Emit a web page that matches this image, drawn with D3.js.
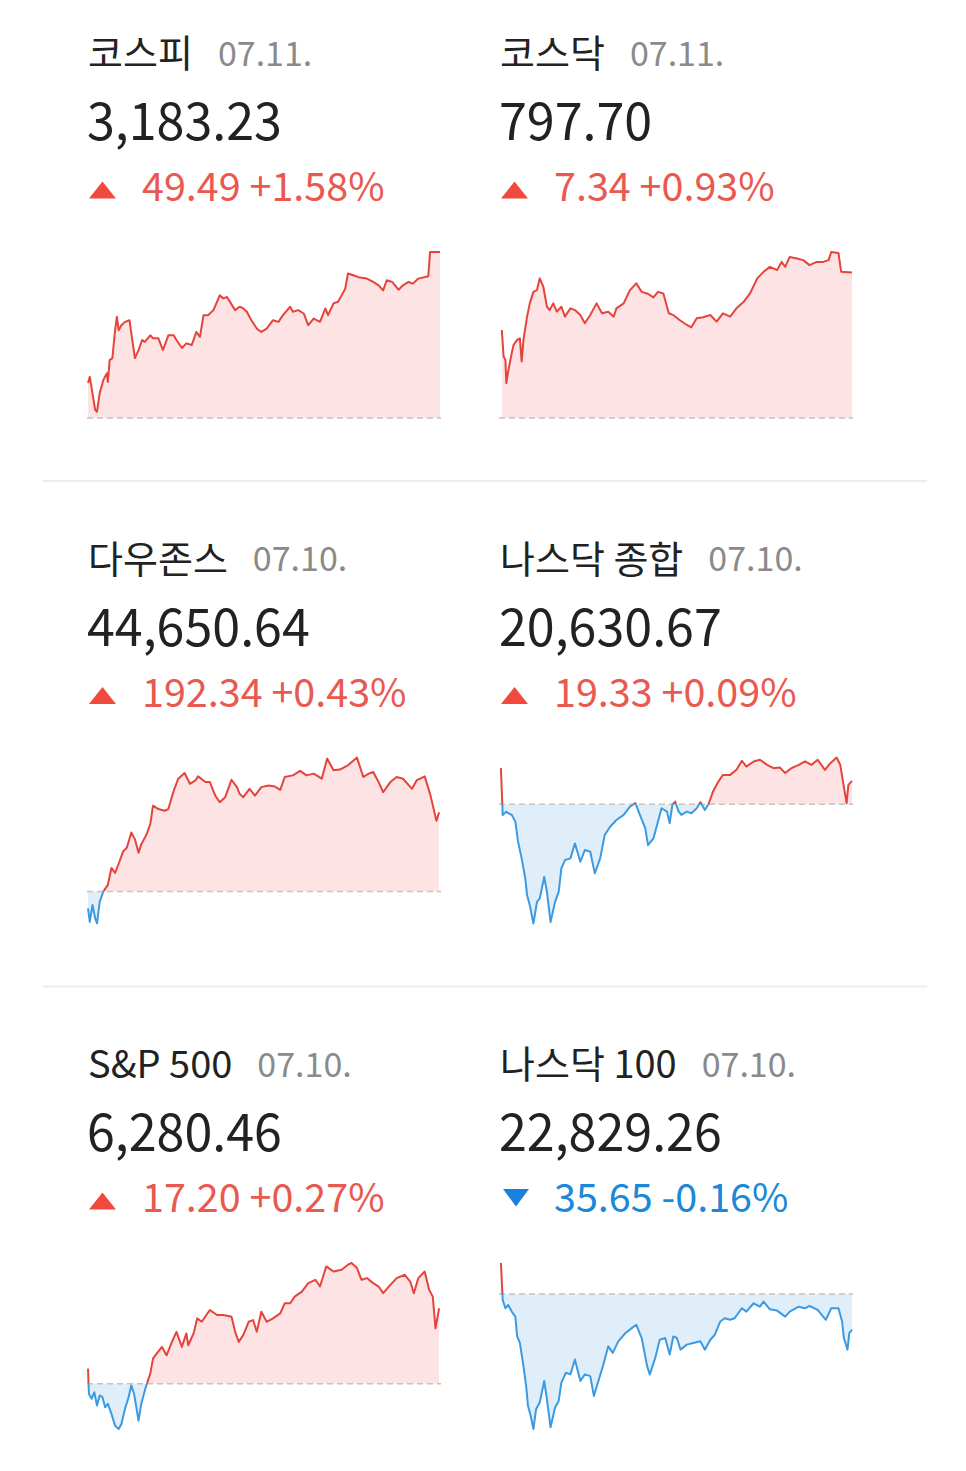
<!DOCTYPE html>
<html><head><meta charset="utf-8">
<script src="https://cdn.jsdelivr.net/npm/d3@7/dist/d3.min.js"></script>
<style>
html,body{margin:0;padding:0;background:#fff;}
svg{display:block;font-family:"Noto Sans CJK KR","Noto Sans",sans-serif;}
</style></head>
<body><svg id="c" width="966" height="1471"></svg>
<script>
const names = ["코스피","코스닥","다우존스","나스닥 종합","S&P 500","나스닥 100"];
const dates = ["07.11.","07.11.","07.10.","07.10.","07.10.","07.10."];
const closes = [3183.23, 797.70, 44650.64, 20630.67, 6280.46, 22829.26];
const changes = [49.49, 7.34, 192.34, 19.33, 17.20, -35.65];
const changePcts = [1.58, 0.93, 0.43, 0.09, 0.27, -0.16];
const sessionMinutes = [0, 390];

// [minutes since open, index level]
const kospiSeries = [[0,3144.2],[2,3146.0],[8,3136.1],[10,3135.6],[13,3141.2],[17,3145.1],[21,3147.1],[22,3144.5],[24,3151.0],[27,3151.6],[30,3159.9],[32,3163.9],[34,3159.9],[37,3161.4],[41,3162.4],[46,3162.9],[48,3159.0],[52,3151.6],[56,3154.0],[60,3157.0],[63,3156.4],[69,3158.4],[72,3157.5],[78,3157.5],[83,3154.0],[89,3158.4],[95,3158.4],[98,3157.0],[104,3154.6],[109,3156.0],[115,3155.5],[120,3159.4],[124,3157.9],[128,3164.4],[133,3164.4],[139,3165.9],[146,3170.3],[150,3169.4],[154,3169.8],[163,3165.9],[168,3166.9],[172,3166.4],[176,3165.4],[181,3162.9],[187,3160.4],[192,3159.4],[198,3160.4],[205,3162.9],[211,3162.4],[216,3164.4],[224,3166.9],[227,3165.4],[233,3165.9],[239,3164.9],[244,3161.4],[250,3163.4],[257,3162.4],[263,3166.4],[266,3164.4],[272,3167.9],[277,3168.4],[281,3170.3],[285,3172.3],[288,3176.8],[294,3176.3],[301,3175.6],[309,3175.3],[316,3174.3],[322,3173.3],[327,3171.8],[331,3174.8],[337,3174.3],[344,3172.0],[349,3173.3],[355,3174.3],[360,3173.8],[366,3175.3],[377,3176.0],[379,3183.23],[390,3183.23]];

const kosdaqSeries = [[2,794.80],[4,793.46],[6,793.29],[7,792.12],[9,792.70],[13,793.63],[15,794.04],[19,794.30],[22,794.38],[24,793.21],[26,794.30],[30,795.47],[33,796.14],[37,796.72],[41,796.81],[44,797.40],[48,796.98],[52,795.97],[55,795.80],[59,796.14],[63,795.72],[68,795.97],[72,795.47],[78,795.89],[83,795.80],[89,795.55],[94,795.14],[100,795.55],[107,796.14],[113,795.64],[120,795.72],[126,795.47],[129,795.89],[137,796.14],[144,796.81],[151,797.15],[157,796.72],[163,796.64],[170,796.44],[175,796.72],[181,796.64],[187,795.64],[192,795.55],[199,795.30],[207,795.05],[212,794.93],[218,795.39],[225,795.44],[233,795.55],[240,795.22],[247,795.64],[255,795.47],[262,795.89],[270,796.22],[277,796.64],[285,797.40],[292,797.73],[299,797.98],[307,797.82],[312,798.23],[316,797.98],[321,798.48],[329,798.40],[336,798.32],[343,798.07],[351,798.23],[358,798.23],[364,798.32],[367,798.73],[375,798.68],[378,797.73],[390,797.70]];

const dowSeries = [[0,44417.6],[2,44384.7],[5,44425.7],[8,44393.1],[10,44380.8],[13,44433.8],[17,44458.3],[22,44474.7],[26,44515.7],[30,44503.4],[35,44531.9],[39,44556.4],[43,44564.8],[48,44601.6],[52,44585.1],[56,44552.5],[59,44572.9],[65,44597.4],[69,44621.9],[72,44666.8],[78,44658.7],[85,44654.5],[89,44658.7],[95,44703.6],[100,44732.3],[107,44746.3],[113,44720.0],[119,44728.1],[122,44737.9],[130,44724.2],[135,44724.2],[141,44691.3],[146,44675.1],[152,44687.4],[159,44729.8],[165,44711.9],[168,44695.5],[172,44687.4],[179,44707.8],[185,44691.3],[192,44711.9],[200,44715.9],[207,44713.4],[213,44705.3],[218,44736.5],[227,44740.4],[235,44751.2],[242,44740.4],[250,44744.6],[259,44732.3],[265,44781.4],[272,44752.7],[279,44754.4],[288,44764.9],[298,44783.8],[305,44736.5],[311,44744.6],[316,44748.7],[322,44724.2],[327,44699.7],[335,44724.2],[342,44736.5],[349,44732.3],[359,44707.8],[364,44728.1],[373,44737.9],[379,44695.5],[383,44658.7],[386,44630.0],[389,44650.64]];

const nasdaqSeries = [[1,20641.2],[3,20602.5],[7,20605.2],[9,20603.9],[13,20602.5],[17,20596.9],[20,20580.3],[24,20566.5],[28,20549.9],[30,20536.1],[33,20527.8],[37,20512.6],[41,20530.5],[44,20533.3],[49,20551.2],[52,20538.8],[56,20513.9],[61,20530.5],[65,20538.8],[68,20558.2],[72,20565.1],[78,20566.5],[83,20578.9],[89,20563.7],[94,20573.4],[100,20572.0],[105,20554.1],[111,20566.5],[116,20585.8],[122,20592.7],[129,20598.3],[137,20602.5],[144,20609.3],[150,20612.2],[155,20602.5],[161,20591.4],[164,20577.5],[170,20583.1],[174,20594.2],[179,20608.0],[185,20605.2],[188,20595.6],[191,20610.8],[194,20613.5],[198,20605.2],[201,20602.5],[207,20605.2],[212,20603.9],[218,20608.0],[222,20613.0],[227,20606.6],[231,20611.3],[236,20621.8],[242,20630.1],[247,20635.6],[255,20635.6],[262,20639.8],[268,20647.3],[273,20642.5],[281,20646.7],[288,20648.1],[296,20643.9],[303,20641.2],[310,20641.7],[316,20637.1],[323,20641.2],[331,20643.9],[338,20646.7],[345,20643.9],[352,20648.1],[360,20639.8],[366,20645.3],[373,20650.0],[377,20643.9],[380,20630.1],[384,20612.2],[386,20627.4],[390,20630.67]];

const spxSeries = [[0,6266.70],[1,6260.97],[4,6259.82],[7,6261.33],[10,6258.28],[13,6260.58],[16,6260.19],[19,6257.89],[22,6258.67],[26,6256.38],[30,6253.70],[34,6252.94],[37,6254.09],[41,6257.53],[45,6260.19],[48,6262.87],[51,6260.97],[56,6254.84],[59,6258.67],[64,6262.48],[69,6265.55],[72,6268.99],[76,6270.14],[82,6271.65],[87,6269.75],[93,6272.80],[98,6275.09],[104,6271.65],[109,6274.73],[111,6272.04],[117,6274.73],[121,6278.16],[126,6277.38],[135,6280.07],[143,6278.92],[150,6278.92],[159,6278.53],[163,6275.09],[167,6272.80],[172,6274.34],[178,6277.38],[183,6277.77],[187,6275.09],[192,6279.68],[198,6277.38],[205,6278.16],[213,6279.31],[218,6281.60],[224,6281.60],[229,6283.12],[237,6284.26],[244,6286.19],[252,6286.95],[257,6285.41],[264,6290.00],[272,6288.85],[281,6289.24],[288,6290.39],[292,6290.78],[298,6289.63],[303,6286.95],[309,6287.34],[316,6286.19],[322,6285.41],[327,6283.90],[335,6285.80],[342,6287.34],[351,6288.09],[357,6286.56],[361,6283.90],[366,6287.34],[373,6288.85],[378,6284.65],[382,6283.12],[385,6275.87],[389,6280.46]];

const ndxSeries = [[1,22895.9],[3,22859.0],[6,22850.7],[9,22854.0],[13,22847.4],[17,22842.4],[19,22822.6],[22,22816.1],[26,22792.9],[29,22773.1],[31,22753.3],[34,22743.4],[37,22730.2],[40,22750.0],[44,22756.7],[49,22778.1],[52,22759.9],[56,22731.9],[61,22751.7],[65,22758.2],[68,22776.5],[73,22786.4],[78,22784.7],[83,22799.5],[89,22778.1],[94,22784.7],[100,22783.0],[104,22763.2],[109,22778.1],[114,22792.9],[120,22812.7],[125,22806.2],[131,22817.7],[139,22826.0],[146,22830.9],[151,22834.2],[157,22821.0],[163,22792.9],[166,22784.7],[172,22801.2],[177,22819.3],[183,22821.0],[188,22804.5],[192,22822.6],[196,22821.0],[200,22809.4],[207,22814.4],[214,22816.1],[222,22817.7],[227,22809.4],[233,22819.3],[238,22824.3],[244,22837.5],[249,22840.8],[255,22839.2],[260,22840.8],[268,22850.7],[273,22847.4],[281,22855.7],[288,22852.3],[292,22857.3],[299,22849.7],[307,22848.4],[316,22842.4],[321,22847.4],[331,22852.3],[338,22850.7],[343,22853.0],[352,22849.1],[361,22839.2],[367,22850.7],[375,22850.7],[379,22837.5],[381,22821.0],[385,22809.4],[387,22826.0],[390,22829.26]];

const seriesList = [kospiSeries, kosdaqSeries, dowSeries, nasdaqSeries, spxSeries, ndxSeries];

// ---- layout & style ----
const colX = [88, 500];
const rowY = [0, 505.5, 1011];
const chartW = 352, chartTop = 252, chartBottom = 418;
const RED_LINE = "#e5443c", RED_FILL = "#fde3e3", BLUE_LINE = "#3b9ae2", BLUE_FILL = "#e0eefa";
const RED_TEXT = "#e9594f", BLUE_TEXT = "#1b88d8", RED_TRI = "#f04a3e", BLUE_TRI = "#1a80de";

const svg = d3.select("#c");
svg.append("rect").attr("width",966).attr("height",1471).attr("fill","#fff");

// dividers
[481, 986.5].forEach(y => {
  svg.append("line").attr("x1",43).attr("x2",927).attr("y1",y).attr("y2",y)
    .attr("stroke","#ededed").attr("stroke-width",2);
});

const fmtVal = d3.format(",.2f");
const fmt2 = v => Math.abs(v).toFixed(2);

names.forEach((name, i) => {
  const cx = colX[i % 2], oy = rowY[Math.floor(i / 2)];
  const g = svg.append("g");
  const up = changes[i] >= 0;
  const base = +(closes[i] - changes[i]).toFixed(2);

  // title + date
  const t = g.append("text").attr("x", cx).attr("y", oy + 67)
    .attr("font-size", 38).attr("fill", "#222").text(name);
  const tw = t.node().getComputedTextLength();
  g.append("text").attr("x", cx + tw + 25).attr("y", oy + 65.5)
    .attr("font-size", 34).attr("fill", "#8a8a8a").text(dates[i]);

  // value (slightly condensed like the reference face)
  g.append("text").attr("transform", `translate(${cx - 1},${oy + 140}) scale(0.965,1)`)
    .attr("font-size", 52).attr("fill", "#222").text(fmtVal(closes[i]));

  // change row
  const tri = up
    ? [[cx + 1, oy + 198.5], [cx + 28, oy + 198.5], [cx + 14.5, oy + 181.5]]
    : [[cx + 3, oy + 178], [cx + 29, oy + 178], [cx + 16, oy + 195.5]];
  g.append("path").attr("d", d3.line()(tri) + "Z").attr("fill", up ? RED_TRI : BLUE_TRI);
  const pct = (changePcts[i] >= 0 ? "+" : "-") + fmt2(changePcts[i]) + "%";
  g.append("text").attr("x", cx + 54).attr("y", oy + 201)
    .attr("font-size", 39.5).attr("fill", up ? RED_TEXT : BLUE_TEXT)
    .text(fmt2(changes[i]) + " " + pct);

  // chart
  const data = seriesList[i];
  const x = d3.scaleLinear().domain(sessionMinutes).range([cx, cx + chartW]);
  const ext = d3.extent(data.map(d => d[1]).concat([base]));
  const y = d3.scaleLinear().domain(ext).range([oy + chartBottom, oy + chartTop]);
  const yb = y(base);

  const idA = "ca" + i, idB = "cb" + i;
  const defs = g.append("defs");
  defs.append("clipPath").attr("id", idA).append("rect")
    .attr("x", cx - 5).attr("width", chartW + 10)
    .attr("y", oy + chartTop - 10).attr("height", yb - (oy + chartTop - 10));
  defs.append("clipPath").attr("id", idB).append("rect")
    .attr("x", cx - 5).attr("width", chartW + 10)
    .attr("y", yb).attr("height", (oy + chartBottom + 10) - yb);

  const area = d3.area().x(d => x(d[0])).y0(yb).y1(d => y(d[1]));
  const line = d3.line().x(d => x(d[0])).y(d => y(d[1]));

  g.append("path").datum(data).attr("d", area).attr("fill", RED_FILL).attr("clip-path", `url(#${idA})`);
  g.append("path").datum(data).attr("d", area).attr("fill", BLUE_FILL).attr("clip-path", `url(#${idB})`);

  g.append("line").attr("x1", cx - 1).attr("x2", cx + chartW + 1).attr("y1", yb).attr("y2", yb)
    .attr("stroke", "#c4c4c4").attr("stroke-width", 1.5).attr("stroke-dasharray", "6,4");

  g.append("path").datum(data).attr("d", line).attr("fill", "none").attr("stroke", RED_LINE)
    .attr("stroke-width", 2).attr("stroke-linejoin", "round").attr("clip-path", `url(#${idA})`);
  g.append("path").datum(data).attr("d", line).attr("fill", "none").attr("stroke", BLUE_LINE)
    .attr("stroke-width", 2).attr("stroke-linejoin", "round").attr("clip-path", `url(#${idB})`);
});
</script></body></html>
